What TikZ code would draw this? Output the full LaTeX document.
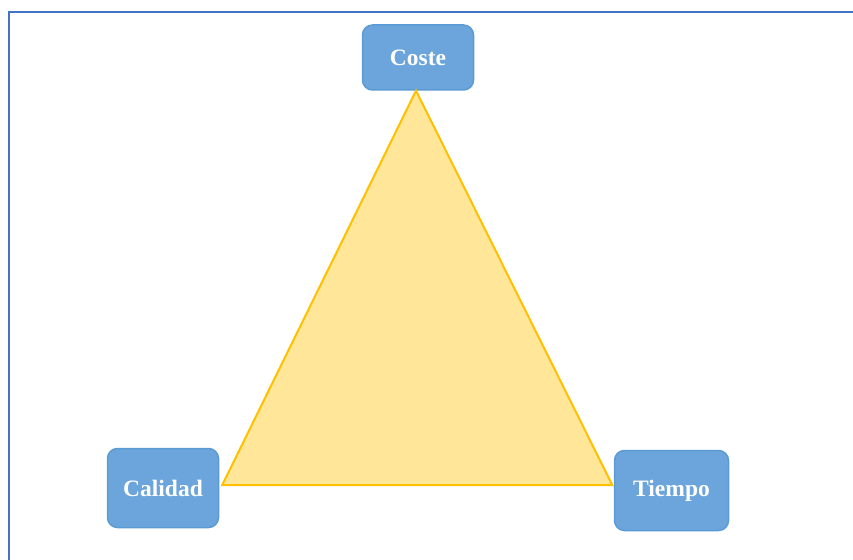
\documentclass[tikz,border=0pt]{standalone}
\usepackage{fontspec}
\setmainfont{Liberation Serif}
\usepackage{tikz}
\definecolor{frameblue}{RGB}{68, 114, 196}
\definecolor{boxfill}{RGB}{108, 165, 219}
\definecolor{boxline}{RGB}{91, 155, 213}
\definecolor{trifill}{RGB}{255, 230, 153}
\definecolor{triline}{RGB}{255, 192, 0}
\tikzset{
    factor/.style={draw=boxline, fill=boxfill, line width=1.5pt, rounded corners=10pt,
        text=white, font=\fontsize{23.5}{26}\selectfont\bfseries, inner sep=0pt},
}

\begin{document}
\begin{tikzpicture}[x=1pt, y=-1pt]

    \useasboundingbox (0,0) rectangle (853,559);
    \clip (0,0) rectangle (853,559);

    \draw[frameblue, line width=2pt] (8.5,600) -- (8.5,12.5) -- (900,12.5);

    \node[factor, minimum width=111pt, minimum height=65pt] (coste) at (418,57.5) {Coste};
    \node[factor, minimum width=111pt, minimum height=79pt] (calidad) at (163,488) {Calidad};
    \node[factor, minimum width=114pt, minimum height=80pt] (tiempo) at (671.5,490.5) {Tiempo};

    % triangle between the three factors
    \coordinate (apex) at ([xshift=-2pt]coste.south);
    \coordinate (left) at ([xshift=3pt, yshift=3pt]calidad.east);
    \coordinate (right) at ([xshift=-1.5pt, yshift=5.5pt]tiempo.west);
    \draw[triline, fill=trifill, line width=2pt, line join=miter] (apex) -- (right) -- (left) -- cycle;

\end{tikzpicture}
\end{document}
